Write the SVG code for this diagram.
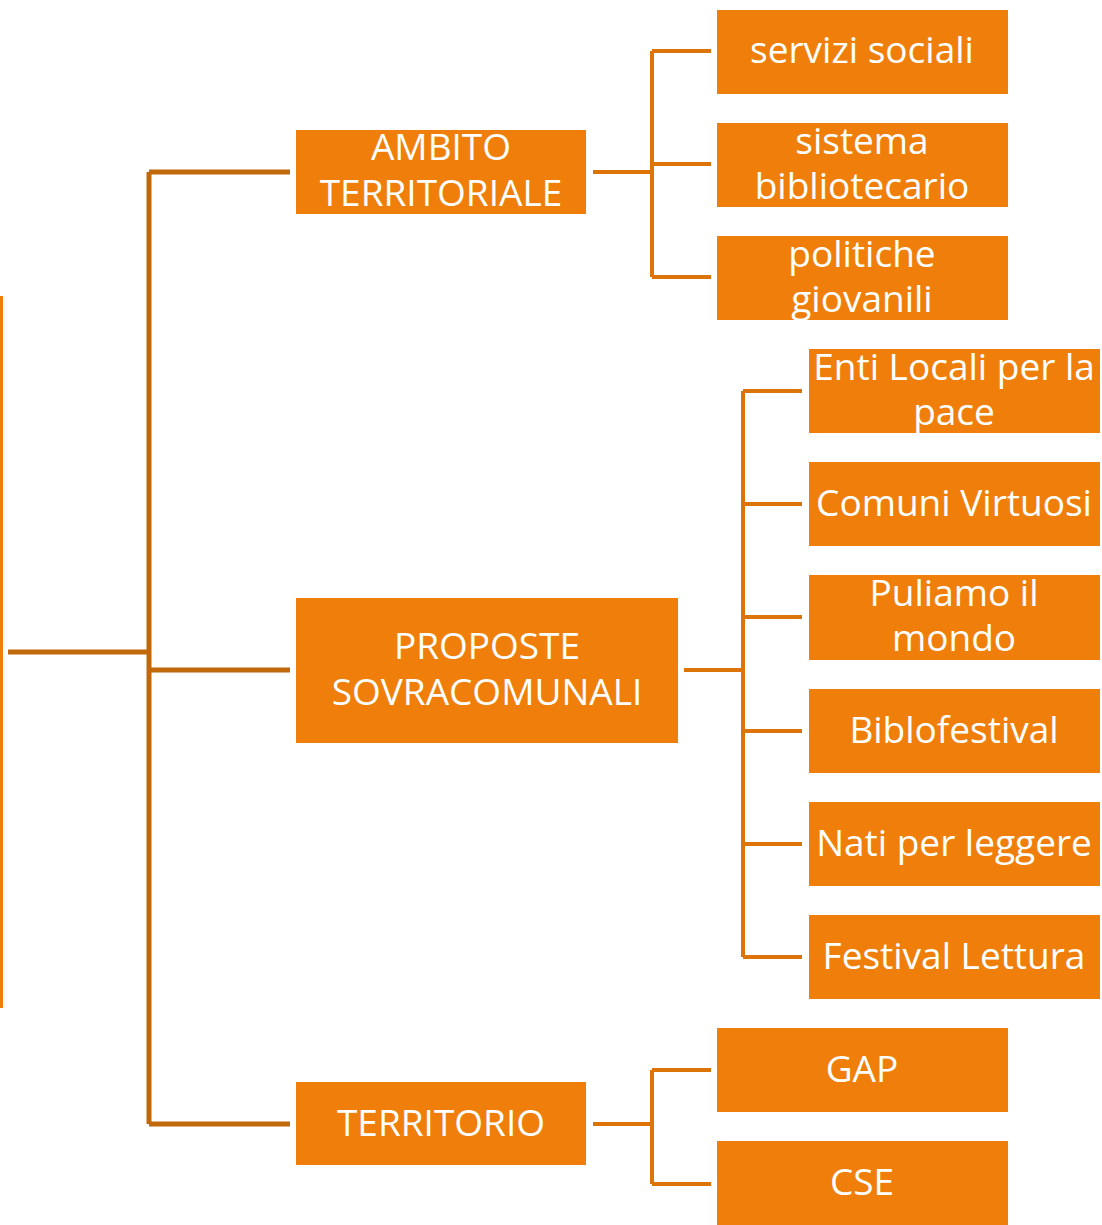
<svg xmlns="http://www.w3.org/2000/svg" width="1102" height="1225" viewBox="0 0 1102 1225">
<style>
.box{fill:#EF7F0A}
.t{font-family:"Open Sans","Noto Sans","DejaVu Sans",sans-serif;font-size:37px;fill:#FFFFFF;text-anchor:middle}
.c1{stroke:#C0680A;stroke-width:5;fill:none}
.c2{stroke:#DC7408;stroke-width:4;fill:none}
</style>
<rect width="1102" height="1225" fill="#FFFFFF"/>
<rect x="0" y="296" width="3" height="712" fill="#EF7F0A"/>
<g id="connectors">
<path class="c1" d="M8 652H149M149 172V1124M149 172H290M149 670H290M149 1124H290"/>
<path class="c2" d="M593 172H652M652 51V277M652 51H711M652 164H711M652 277H711"/>
<path class="c2" d="M684 670H743M743 391V957M743 391H802M743 504H802M743 617H802M743 731H802M743 844H802M743 957H802"/>
<path class="c2" d="M593 1124H652M652 1070V1184M652 1070H711M652 1184H711"/>
</g>
<g id="ambito"><rect class="box" x="296" y="130" width="290" height="84"/><text class="t" x="441" y="160">AMBITO</text><text class="t" x="441" y="206">TERRITORIALE</text></g>
<g id="proposte"><rect class="box" x="296" y="598" width="382" height="145"/><text class="t" x="487" y="659">PROPOSTE</text><text class="t" x="487" y="705">SOVRACOMUNALI</text></g>
<g id="territorio"><rect class="box" x="296" y="1082" width="290" height="83"/><text class="t" x="441" y="1136">TERRITORIO</text></g>
<g id="servizi"><rect class="box" x="717" y="10" width="291" height="84"/><text class="t" x="862" y="63">servizi sociali</text></g>
<g id="sistema"><rect class="box" x="717" y="123" width="291" height="84"/><text class="t" x="862" y="154">sistema</text><text class="t" x="862" y="199">bibliotecario</text></g>
<g id="politiche"><rect class="box" x="717" y="236" width="291" height="84"/><text class="t" x="862" y="267">politiche</text><text class="t" x="862" y="312">giovanili</text></g>
<g id="enti"><rect class="box" x="809" y="349" width="291" height="84"/><text class="t" x="954" y="380">Enti Locali per la</text><text class="t" x="954" y="425">pace</text></g>
<g id="comuni"><rect class="box" x="809" y="462" width="291" height="84"/><text class="t" x="954" y="516">Comuni Virtuosi</text></g>
<g id="puliamo"><rect class="box" x="809" y="575" width="291" height="85"/><text class="t" x="954" y="606">Puliamo il</text><text class="t" x="954" y="651">mondo</text></g>
<g id="biblofestival"><rect class="box" x="809" y="689" width="291" height="84"/><text class="t" x="954" y="743">Biblofestival</text></g>
<g id="nati"><rect class="box" x="809" y="802" width="291" height="84"/><text class="t" x="954" y="856">Nati per leggere</text></g>
<g id="festival"><rect class="box" x="809" y="915" width="291" height="84"/><text class="t" x="954" y="969">Festival Lettura</text></g>
<g id="gap"><rect class="box" x="717" y="1028" width="291" height="84"/><text class="t" x="862" y="1082">GAP</text></g>
<g id="cse"><rect class="box" x="717" y="1141" width="291" height="84"/><text class="t" x="862" y="1195">CSE</text></g>
</svg>
